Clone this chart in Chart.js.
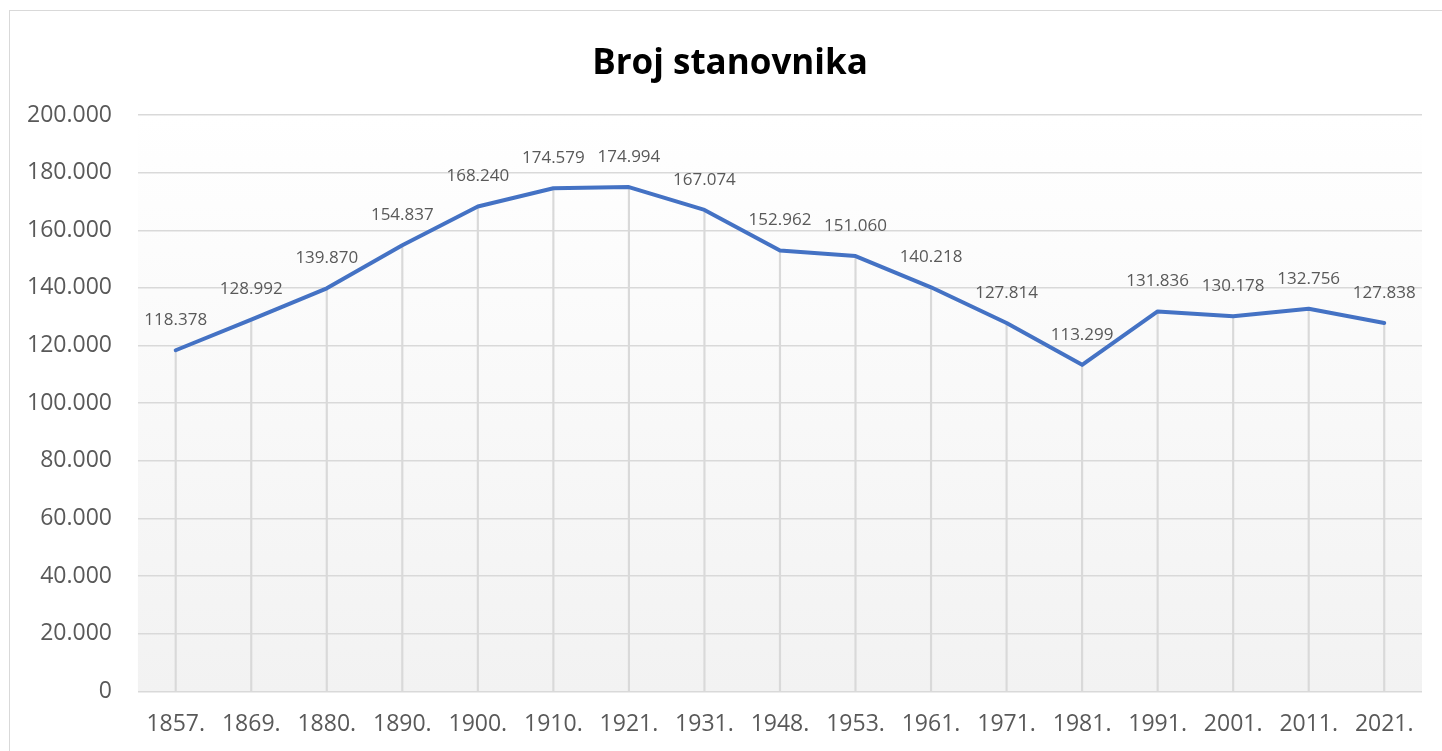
<!DOCTYPE html>
<html>
<head>
<meta charset="utf-8">
<script src="https://cdn.jsdelivr.net/npm/chart.js@4.4.1/dist/chart.umd.min.js"></script>
<style>
  html, body { margin: 0; padding: 0; background: #fff; overflow: hidden; }
  #card { position: absolute; left: 9px; top: 10px; width: 1460px; height: 760px;
          border: 1.5px solid #d9d9d9; box-sizing: border-box; }
  #wrap { position: absolute; left: 0; top: 0; width: 1460px; height: 757px; }
</style>
</head>
<body>
<div id="card"></div>
<div id="wrap"><canvas id="c"></canvas></div>
<script>
const categories = ['1857.', '1869.', '1880.', '1890.', '1900.', '1910.', '1921.', '1931.', '1948.', '1953.', '1961.', '1971.', '1981.', '1991.', '2001.', '2011.', '2021.'];
const population = [118378, 128992, 139870, 154837, 168240, 174579, 174994, 167074, 152962, 151060, 140218, 127814, 113299, 131836, 130178, 132756, 127838];
const yMin = 0;
const yMax = 200000;
const yStep = 20000;
const chartTitle = 'Broj stanovnika';

function fmt(v) {
  return String(Math.round(v)).replace(/\B(?=(\d{3})+(?!\d))/g, '.');
}

const FONT = "'Open Sans', 'Noto Sans', sans-serif";

const bgPlugin = {
  id: 'plotBg',
  beforeDraw(chart) {
    const a = chart.chartArea, ctx = chart.ctx;
    const g = ctx.createLinearGradient(0, a.top, 0, a.bottom);
    g.addColorStop(0, '#ffffff');
    g.addColorStop(1, '#f2f2f2');
    ctx.save();
    ctx.fillStyle = g;
    ctx.fillRect(a.left, a.top, a.right - a.left, a.bottom - a.top);
    ctx.restore();
  }
};

const labelPlugin = {
  id: 'valueLabels',
  afterDatasetsDraw(chart) {
    const meta = chart.getDatasetMeta(0);
    const ds = chart.data.datasets[0];
    const ctx = chart.ctx;
    ctx.save();
    ctx.font = "17px " + FONT;
    ctx.fillStyle = '#595959';
    ctx.textAlign = 'center';
    ctx.textBaseline = 'middle';
    meta.data.forEach((pt, i) => {
      ctx.fillText(fmt(ds.data[i]), pt.x, pt.y - 30);
    });
    ctx.restore();
  }
};

new Chart(document.getElementById('c'), {
  data: {
    labels: categories,
    datasets: [
      {
        type: 'line',
        data: population,
        borderColor: '#4472C4',
        borderWidth: 4,
        borderCapStyle: 'round',
        borderJoinStyle: 'round',
        pointRadius: 0,
        tension: 0,
        order: 0
      },
      {
        type: 'bar',
        data: population,
        backgroundColor: '#d9d9d9',
        barThickness: 1.5,
        order: 1
      }
    ]
  },
  options: {
    responsive: true,
    maintainAspectRatio: false,
    animation: false,
    events: [],
    layout: { padding: { left: 1, right: 1, top: 0, bottom: 0 } },
    plugins: {
      legend: { display: false },
      tooltip: { enabled: false },
      title: {
        display: true,
        text: chartTitle,
        color: '#000000',
        font: { family: FONT, size: 35, weight: 'bold' },
        padding: { top: 43, bottom: 30 }
      }
    },
    scales: {
      x: {
        offset: true,
        grid: { display: false, drawTicks: false },
        border: { display: false },
        ticks: {
          color: '#595959',
          font: { family: FONT, size: 23 },
          padding: 19,
          autoSkip: false,
          maxRotation: 0
        }
      },
      y: {
        min: yMin,
        max: yMax,
        border: { display: false },
        grid: { color: '#d9d9d9', lineWidth: 1.5, drawTicks: false },
        ticks: {
          stepSize: yStep,
          color: '#595959',
          font: { family: FONT, size: 23 },
          padding: 26,
          callback: (v) => fmt(v)
        }
      },
      y2: {
        position: 'right',
        display: true,
        grid: { display: false, drawTicks: false },
        border: { display: false },
        ticks: { display: false },
        afterFit(scale) { scale.width = 37; }
      }
    }
  },
  plugins: [bgPlugin, labelPlugin]
});
</script>
</body>
</html>
